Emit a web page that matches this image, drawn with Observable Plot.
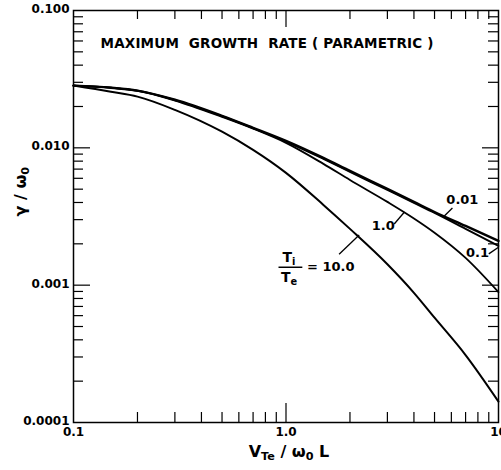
<!DOCTYPE html>
<html><head><meta charset="utf-8">
<script src="https://cdn.jsdelivr.net/npm/d3@7"></script>
<script src="https://cdn.jsdelivr.net/npm/@observablehq/plot@0.6"></script>
<style>body{margin:0;background:#fff}</style>
</head><body><div id="chart"></div>
<script>
// ---- data ----
const xValues  = [0.1, 0.15, 0.2, 0.3, 0.5, 0.7, 1.0, 1.5, 2, 3, 4, 5, 7, 10];
const ratio001 = [0.0284, 0.0274, 0.0261, 0.0224, 0.0171, 0.0140, 0.01125, 0.00845, 0.00679, 0.00502, 0.00404, 0.00341, 0.00270, 0.00210];
const ratio01  = [0.0284, 0.0274, 0.0261, 0.0223, 0.0170, 0.0139, 0.01110, 0.00830, 0.00668, 0.00493, 0.00397, 0.00336, 0.00257, 0.00193];
const ratio1   = [0.0284, 0.0274, 0.0260, 0.0221, 0.0168, 0.0138, 0.01087, 0.00764, 0.00583, 0.00404, 0.00306, 0.00241, 0.00158, 0.00089];
const ratio10  = [0.0284, 0.0256, 0.0236, 0.0189, 0.0131, 0.00966, 0.00657, 0.00384, 0.00257, 0.00142, 0.00088, 0.00058, 0.00031, 0.000142];

const xTicks = [0.1, 1, 10];
const xTickLabels = ["0.1", "1.0", "10"];
const yTicks = [0.0001, 0.001, 0.01, 0.1];
const yTickLabels = ["0.0001", "0.001", "0.010", "0.100"];
const xMinor = [0.2, 0.3, 0.4, 0.5, 0.6, 0.7, 0.8, 0.9, 2, 3, 4, 5, 6, 7, 8, 9];
const xMajor = [1];
const yMinor = [0.0002, 0.0003, 0.0004, 0.0005, 0.0006, 0.0007, 0.0008, 0.0009,
                0.002, 0.003, 0.004, 0.005, 0.006, 0.007, 0.008, 0.009,
                0.02, 0.03, 0.04, 0.05, 0.06, 0.07, 0.08, 0.09];
const yMajor = [0.001, 0.01];

// curve labels and leader lines (annotation anchors in data units)
const labelText = ["0.01", "0.1", "1.0"];
const labelX = [6.76, 7.96, 2.87];
const labelY = [0.00417, 0.00171, 0.0027];
const leaderX1 = [5.56, 9.0, 3.23, 1.778];
const leaderY1 = [0.00319, 0.00169, 0.00279, 0.00168];
const leaderX2 = [6.07, 10.0, 3.61, 2.21];
const leaderY2 = [0.00365, 0.00189, 0.00341, 0.00232];
const fracText = ["T_{i}", "T_{e}"];
const fracX = [1.033, 1.033];
const fracY = [0.0016, 0.00114];
const fracBarX = [0.927, 1.20];
const fracBarY = 0.00135;
const fracValueText = "= 10.0";
const fracValueX = 1.256;

const titleText = "MAXIMUM  GROWTH  RATE ( PARAMETRIC )";
const xLabelText = "V_{Te} / ω_{0} L";
const yLabelText = "γ / ω_{0}";

// ---- build tables ----
const seriesDefs = [
  {name: "0.01", values: ratio001, w: 2.4},
  {name: "0.1", values: ratio01, w: 1.8},
  {name: "1.0", values: ratio1, w: 1.8},
  {name: "10.0", values: ratio10, w: 2.0}
];
const W = 501, H = 470, mT = 10, mR = 3, mB = 48, mL = 73;
const innerW = W - mL - mR, innerH = H - mT - mB;

const leaders = leaderX1.map((x1, i) => ({x1, y1: leaderY1[i], x2: leaderX2[i], y2: leaderY2[i]}));
const labels = labelText.map((t, i) => ({t, x: labelX[i], y: labelY[i]}));
const fracs = fracText.map((t, i) => ({t, x: fracX[i], y: fracY[i]}));

const lineMarks = seriesDefs.map(s =>
  Plot.line(xValues.map((x, i) => ({x, y: s.values[i]})),
    {x: "x", y: "y", stroke: "#000", strokeWidth: s.w, curve: "monotone-x"}));

const chart = Plot.plot({
  width: W, height: H,
  marginTop: mT, marginRight: mR, marginBottom: mB, marginLeft: mL,
  style: {fontFamily: "DejaVu Sans", fontSize: "12px", fontWeight: "bold", background: "#fff", color: "#000"},
  x: {type: "log", domain: [0.1, 10]},
  y: {type: "log", domain: [0.0001, 0.1]},
  marks: [
    // tick marks, inward
    Plot.tickX(xMinor, {x: d => d, insetTop: innerH - 10, strokeWidth: 1.2}),
    Plot.tickX(xMajor, {x: d => d, insetTop: innerH - 19, strokeWidth: 1.2}),
    Plot.tickX(xMinor, {x: d => d, insetBottom: innerH - 9, strokeWidth: 1.2}),
    Plot.tickX(xMajor, {x: d => d, insetBottom: innerH - 17, strokeWidth: 1.2}),
    Plot.tickY(yMinor, {y: d => d, insetRight: innerW - 10, strokeWidth: 1.2}),
    Plot.tickY(yMajor, {y: d => d, insetRight: innerW - 17, strokeWidth: 1.2}),
    Plot.tickY(yMinor, {y: d => d, insetLeft: innerW - 10, strokeWidth: 1.2}),
    Plot.tickY(yMajor, {y: d => d, insetLeft: innerW - 16, strokeWidth: 1.2}),
    Plot.axisX({ticks: xTicks, tickFormat: d => xTickLabels[xTicks.indexOf(d)], tickSize: 0, tickPadding: 5, label: null, fontSize: 12}),
    Plot.axisY({ticks: yTicks, tickFormat: d => yTickLabels[yTicks.findIndex(v => Math.abs(v - d) / v < 1e-6)], tickSize: 0, tickPadding: 4, dy: -1.5, label: null, fontSize: 12}),
    Plot.frame({stroke: "#000", strokeWidth: 1.5}),
    ...lineMarks,
    Plot.link(leaders, {x1: "x1", y1: "y1", x2: "x2", y2: "y2", stroke: "#000", strokeWidth: 1.3}),
    Plot.text(labels, {x: "x", y: "y", text: "t", fontSize: 13, textAnchor: "middle"}),
    Plot.text(fracs, {x: "x", y: "y", text: "t", fontSize: 14, textAnchor: "middle"}),
    Plot.ruleY([fracBarY], {x1: fracBarX[0], x2: fracBarX[1], stroke: "#000", strokeWidth: 1.5}),
    Plot.text([fracValueText], {x: fracValueX, y: fracBarY, text: d => d, fontSize: 13, textAnchor: "start"}),
    Plot.text([titleText], {frameAnchor: "top-left", dx: 27, dy: 28, text: d => d, fontSize: 13.5, textAnchor: "start"}),
    Plot.text([xLabelText], {frameAnchor: "bottom", dx: 3, dy: 34, text: d => d, fontSize: 16}),
    Plot.text([yLabelText], {frameAnchor: "left", dx: -53, rotate: -90, text: d => d, fontSize: 16})
  ]
});

// subscripts: turn "_{..}" into tspans
d3.select(chart).selectAll("text").each(function() {
  const t = this.textContent;
  if (t.startsWith("MAXIMUM")) {
    this.setAttribute("textLength", 333);
    this.setAttribute("lengthAdjust", "spacing");
  }
  if (!t.includes("_{")) return;
  const parts = t.split(/(_\{[^}]*\})/).filter(s => s.length);
  const sel = d3.select(this);
  sel.text("");
  let wasSub = false;
  for (const p of parts) {
    if (p.startsWith("_{")) {
      sel.append("tspan").attr("font-size", "70%").attr("dy", "0.3em").text(p.slice(2, -1));
      wasSub = true;
    } else {
      const ts = sel.append("tspan").text(p);
      if (wasSub) ts.attr("dy", "-0.21em");
      wasSub = false;
    }
  }
});

document.getElementById("chart").appendChild(chart);
</script>
</body></html>
